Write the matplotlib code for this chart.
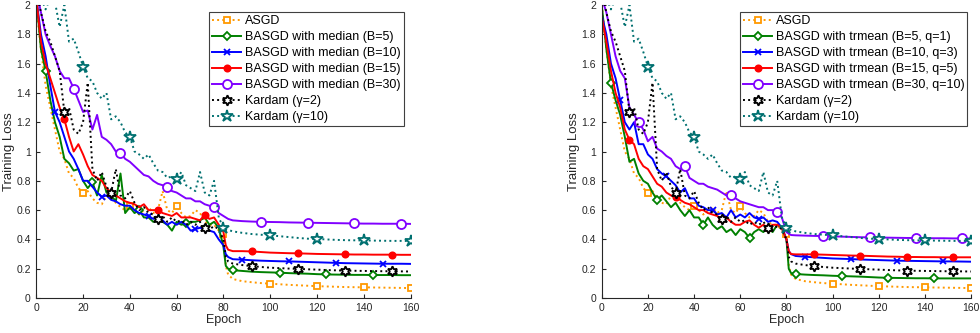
import matplotlib
matplotlib.use('Agg')
import matplotlib.pyplot as plt
from matplotlib.ticker import FuncFormatter

plt.rcParams['font.family'] = ['Liberation Sans', 'DejaVu Sans']

# Epoch grid (dense before the learning-rate drop, sparse after)
epochs = list(range(0, 81, 2)) + [81, 82] + list(range(84, 161, 4))

# Shared curves (same in both panels)
asgd = [2.00, 1.70, 1.45, 1.30, 1.15, 1.00, 0.95, 0.85, 0.82, 0.75, 0.72, 0.73, 0.68, 0.65, 0.64, 0.70, 0.68, 0.65, 0.62, 0.60,
        0.63, 0.60, 0.57, 0.60, 0.62, 0.58, 0.60, 0.73, 0.60, 0.58, 0.63, 0.58, 0.55, 0.56, 0.60, 0.58, 0.52, 0.50, 0.50, 0.46, 0.44,
        0.22, 0.16, 0.13, 0.115, 0.108, 0.102, 0.098, 0.094, 0.090, 0.087, 0.084, 0.081, 0.079, 0.077, 0.075, 0.074, 0.073, 0.072, 0.071, 0.070, 0.069, 0.068]
kardam2 = [2.10, 1.95, 1.82, 1.75, 1.65, 1.55, 1.27, 1.30, 1.15, 1.12, 1.20, 1.47, 0.88, 0.80, 0.86, 0.76, 0.72, 0.88, 0.70, 0.68,
           0.73, 0.65, 0.60, 0.62, 0.58, 0.57, 0.54, 0.56, 0.52, 0.55, 0.52, 0.53, 0.50, 0.52, 0.50, 0.52, 0.48, 0.47, 0.49, 0.47, 0.40,
           0.28, 0.25, 0.235, 0.225, 0.218, 0.212, 0.207, 0.204, 0.201, 0.199, 0.196, 0.194, 0.191, 0.189, 0.187, 0.186, 0.185, 0.184, 0.183, 0.183, 0.182, 0.181]
kardam10 = [2.10, 2.05, 1.97, 2.05, 2.02, 1.85, 2.00, 1.75, 1.77, 1.68, 1.58, 1.50, 1.48, 1.40, 1.36, 1.40, 1.22, 1.24, 1.20, 1.13,
            1.10, 1.00, 0.98, 0.95, 0.98, 0.92, 0.87, 0.86, 0.82, 0.83, 0.81, 0.86, 0.77, 0.75, 0.73, 0.86, 0.72, 0.70, 0.80, 0.55, 0.48,
            0.47, 0.465, 0.455, 0.445, 0.437, 0.432, 0.428, 0.422, 0.416, 0.410, 0.405, 0.403, 0.400, 0.397, 0.395, 0.394, 0.393, 0.392, 0.391, 0.390, 0.390, 0.389]

# Left panel: BASGD with median
med_b5 = [2.05, 1.70, 1.55, 1.35, 1.20, 1.10, 0.95, 0.92, 0.87, 0.88, 0.80, 0.75, 0.79, 0.70, 0.84, 0.72, 0.70, 0.66, 0.85, 0.58,
          0.62, 0.58, 0.60, 0.55, 0.55, 0.52, 0.53, 0.52, 0.50, 0.46, 0.52, 0.50, 0.51, 0.52, 0.52, 0.53, 0.55, 0.50, 0.52, 0.48, 0.35,
          0.22, 0.20, 0.19, 0.185, 0.180, 0.177, 0.175, 0.173, 0.170, 0.168, 0.166, 0.163, 0.161, 0.160, 0.159, 0.158, 0.158, 0.157, 0.157, 0.157, 0.156, 0.156]
med_b10 = [2.05, 1.80, 1.65, 1.45, 1.27, 1.20, 1.10, 1.00, 0.95, 0.88, 0.80, 0.80, 0.76, 0.72, 0.69, 0.70, 0.67, 0.66, 0.64, 0.63,
           0.63, 0.60, 0.58, 0.57, 0.56, 0.54, 0.55, 0.53, 0.50, 0.52, 0.50, 0.52, 0.50, 0.46, 0.47, 0.48, 0.47, 0.46, 0.45, 0.40, 0.36,
           0.30, 0.28, 0.265, 0.262, 0.258, 0.255, 0.253, 0.251, 0.250, 0.248, 0.246, 0.244, 0.242, 0.240, 0.238, 0.237, 0.236, 0.235, 0.234, 0.234, 0.234, 0.233]
med_b15 = [2.05, 1.75, 1.60, 1.50, 1.40, 1.30, 1.22, 1.10, 1.00, 1.05, 0.98, 0.90, 0.84, 0.82, 0.80, 0.75, 0.72, 0.70, 0.68, 0.66,
           0.65, 0.64, 0.62, 0.64, 0.60, 0.60, 0.60, 0.58, 0.57, 0.56, 0.58, 0.55, 0.55, 0.55, 0.54, 0.53, 0.57, 0.54, 0.55, 0.50, 0.45,
           0.36, 0.33, 0.32, 0.320, 0.318, 0.314, 0.310, 0.308, 0.306, 0.305, 0.303, 0.301, 0.300, 0.299, 0.298, 0.297, 0.297, 0.296, 0.296, 0.296, 0.295, 0.295]
med_b30 = [2.10, 1.95, 1.80, 1.72, 1.65, 1.55, 1.50, 1.50, 1.43, 1.35, 1.27, 1.28, 1.15, 1.25, 1.10, 1.08, 1.05, 1.00, 0.99, 0.95,
           0.93, 0.90, 0.87, 0.84, 0.83, 0.80, 0.78, 0.77, 0.76, 0.73, 0.72, 0.70, 0.68, 0.68, 0.66, 0.66, 0.64, 0.63, 0.62, 0.58, 0.56,
           0.55, 0.54, 0.53, 0.525, 0.522, 0.520, 0.519, 0.518, 0.516, 0.515, 0.514, 0.513, 0.512, 0.511, 0.510, 0.509, 0.508, 0.508, 0.507, 0.507, 0.507, 0.506]

# Right panel: BASGD with trmean
trm_b5 = [2.00, 1.70, 1.47, 1.35, 1.25, 1.10, 0.93, 0.95, 0.85, 0.80, 0.78, 0.72, 0.67, 0.70, 0.66, 0.62, 0.65, 0.60, 0.56, 0.60,
          0.55, 0.55, 0.50, 0.55, 0.50, 0.47, 0.49, 0.45, 0.47, 0.43, 0.47, 0.45, 0.41, 0.45, 0.47, 0.45, 0.48, 0.45, 0.50, 0.48, 0.40,
          0.20, 0.17, 0.164, 0.160, 0.157, 0.155, 0.152, 0.150, 0.148, 0.146, 0.143, 0.140, 0.138, 0.137, 0.136, 0.135, 0.135, 0.134, 0.134, 0.134, 0.134, 0.134]
trm_b10 = [1.93, 1.80, 1.60, 1.50, 1.35, 1.20, 1.15, 1.20, 1.05, 1.05, 0.98, 0.95, 0.88, 0.85, 0.83, 0.80, 0.77, 0.72, 0.75, 0.68,
           0.68, 0.63, 0.62, 0.60, 0.60, 0.57, 0.58, 0.55, 0.60, 0.55, 0.57, 0.55, 0.58, 0.55, 0.54, 0.55, 0.52, 0.53, 0.52, 0.48, 0.40,
           0.32, 0.30, 0.287, 0.282, 0.278, 0.274, 0.270, 0.268, 0.266, 0.263, 0.261, 0.259, 0.257, 0.255, 0.254, 0.253, 0.252, 0.251, 0.250, 0.250, 0.249, 0.248]
trm_b15 = [1.92, 1.75, 1.55, 1.40, 1.30, 1.15, 1.08, 1.05, 0.95, 0.90, 0.88, 0.83, 0.78, 0.76, 0.72, 0.70, 0.69, 0.67, 0.65, 0.64,
           0.62, 0.60, 0.60, 0.58, 0.57, 0.56, 0.54, 0.55, 0.52, 0.50, 0.50, 0.52, 0.53, 0.50, 0.48, 0.50, 0.48, 0.50, 0.50, 0.48, 0.40,
           0.32, 0.30, 0.298, 0.298, 0.298, 0.296, 0.294, 0.292, 0.290, 0.289, 0.287, 0.285, 0.283, 0.282, 0.280, 0.280, 0.279, 0.279, 0.278, 0.278, 0.278, 0.278]
trm_b30 = [2.05, 1.95, 1.80, 1.65, 1.55, 1.50, 1.30, 1.25, 1.20, 1.15, 1.07, 1.10, 1.02, 1.00, 0.97, 0.95, 0.90, 0.88, 0.90, 0.82,
           0.80, 0.78, 0.78, 0.76, 0.75, 0.74, 0.72, 0.70, 0.70, 0.68, 0.66, 0.65, 0.64, 0.63, 0.62, 0.62, 0.60, 0.60, 0.59, 0.55, 0.45,
           0.44, 0.43, 0.428, 0.426, 0.424, 0.423, 0.421, 0.419, 0.417, 0.415, 0.414, 0.413, 0.412, 0.411, 0.410, 0.410, 0.409, 0.408, 0.408, 0.407, 0.407, 0.406]

med_labels = ['BASGD with median (B=5)', 'BASGD with median (B=10)',
              'BASGD with median (B=15)', 'BASGD with median (B=30)']
trm_labels = ['BASGD with trmean (B=5, q=1)', 'BASGD with trmean (B=10, q=3)',
              'BASGD with trmean (B=15, q=5)', 'BASGD with trmean (B=30, q=10)']

# style per series: color, linestyle, marker, filled, size, first marker epoch
styles = {
    'asgd': ('#FF9900', ':', 's', False, 5, 20),
    'b5':   ('#008000', '-', 'D', False, 4.5, 4),
    'b10':  ('#0000FF', '-', 'x', False, 4.5, 8),
    'b15':  ('#FF0000', '-', 'o', True, 4.5, 12),
    'b30':  ('#8000FF', '-', 'o', False, 6.5, 16),
    'k2':   ('#000000', ':', (6, 1, 0), False, 7.5, 12),
    'k10':  ('#007070', ':', '*', False, 9, 20),
}


def draw(ax, key, y, label):
    color, ls, mk, filled, ms, start = styles[key]
    marks = [epochs.index(e) for e in range(start, 161, 20) if e in epochs]
    ax.plot(epochs, y, color=color, linestyle=ls, lw=1.4, marker=mk, ms=ms,
            mfc=color if filled else 'white', mec=color, mew=1.3,
            markevery=marks, label=label)


def fmt(v, pos):
    return f'{v:g}'


fig = plt.figure(figsize=(9.8, 3.33), dpi=100)
positions = [[0.037, 0.105, 0.382, 0.880], [0.614, 0.105, 0.377, 0.880]]
panels = [(med_b5, med_b10, med_b15, med_b30, med_labels, (0.981, 0.976)),
          (trm_b5, trm_b10, trm_b15, trm_b30, trm_labels, (0.990, 0.976))]

for pos, (s5, s10, s15, s30, labels, anchor) in zip(positions, panels):
    ax = fig.add_axes(pos)
    draw(ax, 'asgd', asgd, 'ASGD')
    draw(ax, 'b5', s5, labels[0])
    draw(ax, 'b10', s10, labels[1])
    draw(ax, 'b15', s15, labels[2])
    draw(ax, 'b30', s30, labels[3])
    draw(ax, 'k2', kardam2, 'Kardam (\u03b3=2)')
    draw(ax, 'k10', kardam10, 'Kardam (\u03b3=10)')

    ax.set_xlim(0, 160)
    ax.set_ylim(0, 2)
    ax.set_xticks(range(0, 161, 20))
    ax.set_yticks([i / 5 for i in range(11)])
    ax.yaxis.set_major_formatter(FuncFormatter(fmt))
    ax.tick_params(direction='in', length=3, labelsize=7.5, colors='#262626')
    ax.tick_params(axis='y', pad=4)
    for side in ['top', 'right']:
        ax.spines[side].set_visible(False)
    for side in ['left', 'bottom']:
        ax.spines[side].set_color('#262626')
        ax.spines[side].set_linewidth(0.8)
    ax.set_xlabel('Epoch', fontsize=9, color='#262626', labelpad=1)
    ax.set_ylabel('Training Loss', fontsize=9.5, color='#262626', labelpad=1)

    leg = ax.legend(loc='upper right', bbox_to_anchor=anchor, borderaxespad=0,
                    fontsize=9, fancybox=False, framealpha=1, edgecolor='#404040',
                    handlelength=2.3, labelspacing=0.32, borderpad=0.25,
                    handletextpad=0.3)
    leg.get_frame().set_linewidth(0.8)

fig.savefig('out.png', dpi=100)
